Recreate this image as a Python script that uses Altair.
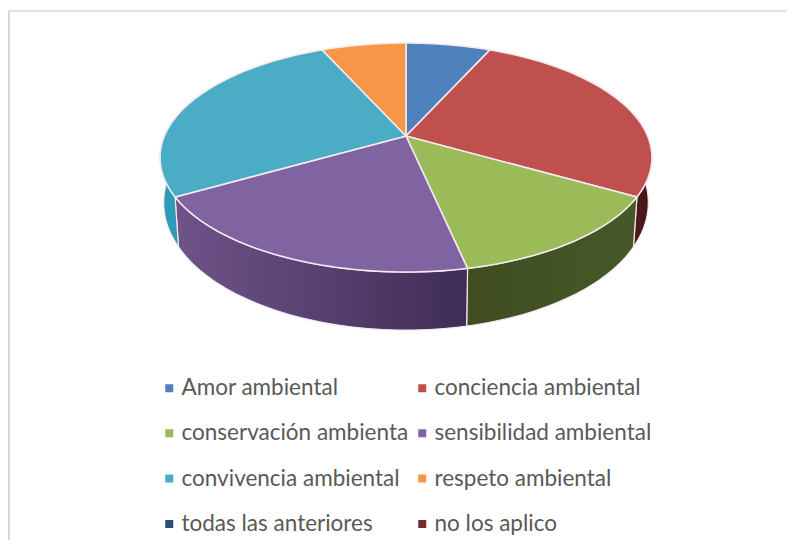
import math
import altair as alt

categories = ["Amor ambiental", "conciencia ambiental", "conservación ambienta",
              "sensibilidad ambiental", "convivencia ambiental", "respeto ambiental",
              "todas las anteriores", "no los aplico"]
values = [2, 8, 4, 6, 8, 2, 0, 0]
colors = ["#4f81bd", "#c0504d", "#9bbb59", "#8064a2", "#4bacc6", "#f79646", "#2c4d75", "#772c2a"]
wall_stops = {
    "conciencia ambiental": ["#5a1e1c", "#3f1513"],
    "conservación ambienta": ["#3f4d20", "#465828"],
    "sensibilidad ambiental": ["#6f5389", "#3f2d55"],
    "convivencia ambiental": ["#2f9ab5", "#2f9ab5"],
}

# perspective view of the pie: chart coordinates are page coordinates minus 8
CX, APEX_Y, RX, K, A = 398.0, 128.0, 241.6, -0.188, 84.9


def top_point(theta):
    u, v = math.sin(theta), -math.cos(theta)
    w = 1 + K * v
    return [CX + RX * u / w, (A * v + APEX_Y + 8) / w - 8]


def bottom_point(theta):
    x, y = top_point(theta)
    v = -math.cos(theta)
    return [CX + 0.985 * (x - CX), y + 42 + 16 * v]


def arc(start, end, fn):
    n = max(2, int(abs(end - start) / 1.5))
    return [fn(math.radians(start + (end - start) * i / n)) for i in range(n + 1)]


total = sum(values)
tops, walls, cum = [], [], 0
for name, val in zip(categories, values):
    a0 = cum / total * 360
    cum += val
    a1 = cum / total * 360
    if val == 0:
        continue
    ring = [[CX, APEX_Y]] + arc(a0, a1, top_point) + [[CX, APEX_Y]]
    tops.append({"type": "Feature", "name": name,
                 "geometry": {"type": "Polygon", "coordinates": [ring]}})
    s, e = max(a0, 75), min(a1, 285)
    if name in wall_stops and s < e:
        pts = arc(s, e, top_point) + arc(e, s, bottom_point)
        pts.append(pts[0])
        walls.append((name, {"type": "Feature", "name": name,
                             "geometry": {"type": "Polygon", "coordinates": [pts]}}))

proj = dict(type="identity", scale=1, translate=[0, 0])
EDGE = "#f3e9ef"

layers = []
blank = alt.Data(values=[{}])
layers.append(alt.Chart(blank).mark_rule(color="#d9d9d9", strokeWidth=1.5).encode(
    x=alt.value(0), x2=alt.value(778), y=alt.value(3)))
layers.append(alt.Chart(blank).mark_rule(color="#d9d9d9", strokeWidth=2).encode(
    x=alt.value(1), y=alt.value(3), y2=alt.value(532)))

for name, feature in walls:
    c0, c1 = wall_stops[name]
    grad = alt.Gradient(gradient="linear", x1=0, x2=1, y1=0, y2=0,
                        stops=[alt.GradientStop(color=c0, offset=0),
                               alt.GradientStop(color=c1, offset=1)])
    layers.append(alt.Chart(alt.Data(values=[feature])).mark_geoshape(
        fill=grad, stroke=EDGE, strokeWidth=1.2).project(**proj))

layers.append(alt.Chart(alt.Data(values=tops)).mark_geoshape(
    stroke=EDGE, strokeWidth=1.6).encode(
    color=alt.Color("name:N",
                    scale=alt.Scale(domain=categories, range=colors),
                    legend=alt.Legend(title=None, orient="none", legendX=150, legendY=370,
                                      columns=2, direction="horizontal",
                                      symbolType="square", symbolSize=64,
                                      symbolStrokeWidth=0, labelFont="Lato", labelFontSize=22.5,
                                      labelColor="#595959", labelLimit=400, labelOffset=1,
                                      clipHeight=20, rowPadding=22.3, columnPadding=2,
                                      padding=0))
).project(**proj))

chart = alt.layer(*layers).properties(
    width=778, height=532, padding=0, autosize=alt.AutoSizeParams(type="none"),
    background="white"
).configure_view(stroke=None)

chart.save("out.html", embed_options={"renderer": "svg", "actions": False})
